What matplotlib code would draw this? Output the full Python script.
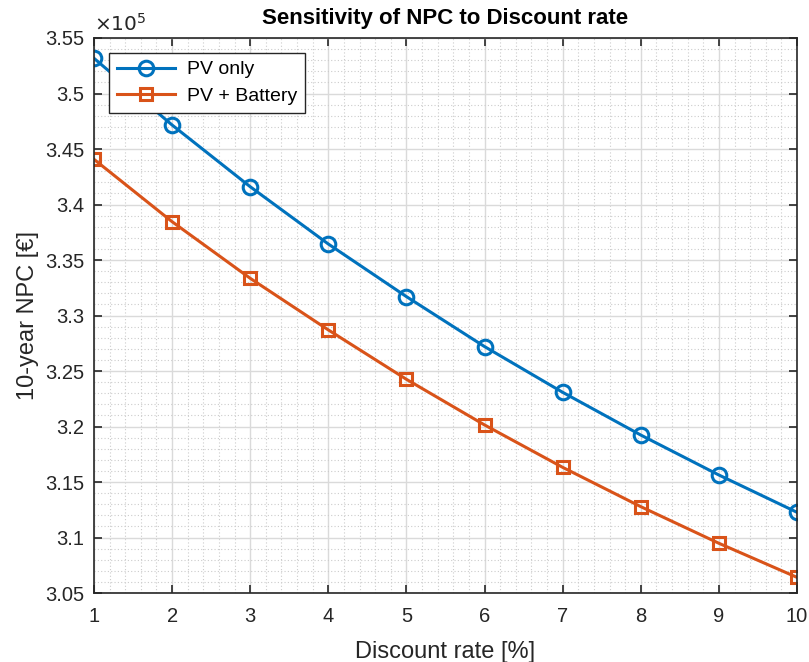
import matplotlib.pyplot as plt
from matplotlib.ticker import MultipleLocator

plt.rcParams['font.family'] = ['Liberation Sans', 'DejaVu Sans']

# discount rate [%]
rates = [1, 2, 3, 4, 5, 6, 7, 8, 9, 10]
# 10-year NPC in euro
npc_pv = [353170, 347160, 341600, 336440, 331700, 327200, 323080, 319230, 315630, 312270]
npc_pv_batt = [344070, 338450, 333350, 328700, 324250, 320140, 316320, 312780, 309480, 306410]

blue = '#0072BD'
orange = '#D95319'
axcol = '#262626'

fig = plt.figure(figsize=(8.09, 6.62), dpi=100)
ax = fig.add_axes([0.1162, 0.1042, 0.869, 0.8384])

ax.plot(rates, [v / 1e5 for v in npc_pv], '-o', color=blue, lw=2.2, ms=10.5,
        mfc='none', mew=2.2, label='PV only')
ax.plot(rates, [v / 1e5 for v in npc_pv_batt], '-s', color=orange, lw=2.2, ms=8.5,
        mfc='none', mew=2.2, label='PV + Battery')

ax.set_xlim(1, 10)
ax.set_ylim(3.05, 3.55)
ax.xaxis.set_major_locator(MultipleLocator(1))
ax.xaxis.set_minor_locator(MultipleLocator(0.2))
ax.yaxis.set_major_locator(MultipleLocator(0.05))
ax.yaxis.set_minor_locator(MultipleLocator(0.01))
ax.set_yticklabels(['%g' % t for t in ax.get_yticks()])

ax.grid(which='major', color='#dadada', lw=1, ls='-')
ax.grid(which='minor', color='#cccccc', lw=0.8, ls=(0, (1, 2)))
ax.set_axisbelow(True)

ax.tick_params(which='major', direction='in', length=6, width=1.2, top=True, right=True,
               labelsize=14.5, colors=axcol)
ax.tick_params(axis='x', pad=10)
ax.tick_params(axis='y', pad=7)
ax.tick_params(which='minor', length=0)
for s in ax.spines.values():
    s.set_color(axcol)
    s.set_linewidth(1.2)

ax.text(0.0, 1.006, r'$\times10^5$', transform=ax.transAxes, fontsize=14.5,
        color=axcol, ha='left', va='bottom')

ax.set_title('Sensitivity of NPC to Discount rate', fontsize=16, fontweight='bold',
             color='black', pad=10)
ax.set_xlabel('Discount rate [%]', fontsize=17, color=axcol, labelpad=11)
ax.set_ylabel('10-year NPC [€]', fontsize=17, color=axcol, labelpad=4)

leg = ax.legend(loc='upper left', bbox_to_anchor=(0.021, 0.973), fontsize=14,
                fancybox=False, framealpha=1, edgecolor=axcol, handlelength=3.0,
                borderpad=0.4, labelspacing=0.45, handletextpad=0.6, borderaxespad=0)
leg.get_frame().set_linewidth(1)

fig.savefig('out.png', dpi=100)
